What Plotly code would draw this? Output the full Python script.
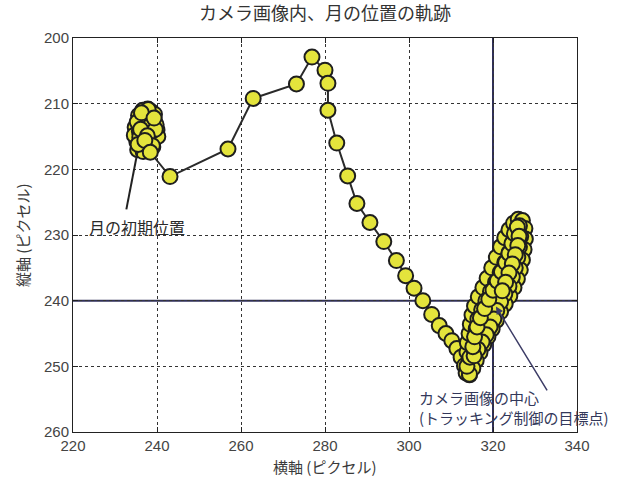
import plotly.graph_objects as go

# Moon centroid in the camera image (pixels), in time order
moon_x = [
    # initial position (nearly stationary)
    237.0, 235.6, 238.6, 236.4, 239.4, 234.8, 237.8, 240.0, 235.2, 238.2,
    236.6, 239.2, 234.6, 237.4, 239.8, 236.0, 238.4, 235.4, 237.0, 239.0,
    236.2, 238.0, 240.2, 235.8, 237.6, 236.8, 238.8, 237.2, 239.4, 236.9,
    235.9, 238.1, 236.5, 239.1, 237.3, 235.3, 238.7, 236.1, 237.9, 236.7,
    239.6, 235.5, 237.7, 238.9, 236.3, 237.1, 239.3, 238.4,
    # drift towards the image centre
    243.1, 256.9, 262.9, 273.2, 276.9, 280.0, 280.7, 280.7, 282.8, 285.4,
    287.6, 290.7, 294.0, 297.0, 299.2, 301.2, 303.3, 305.4, 307.2, 308.8,
    310.2, 311.4, 312.4, 313.2, 313.6,
    # tracking oscillation around the centre
    314.4, 315.0, 314.4, 313.8, 313.9, 314.3, 314.6, 315.0, 315.6, 316.5,
    317.6, 318.6, 319.7, 320.8, 321.8, 322.8, 323.8, 324.9, 326.0, 327.0,
    327.6, 327.7, 327.4, 327.0, 326.5, 325.8, 325.0, 324.0, 322.9, 321.8,
    320.8, 319.8, 318.8, 317.8, 316.9, 316.0, 315.2, 314.4,
    313.8, 314.5, 315.3, 315.8, 316.0, 316.4, 317.3, 318.3, 319.4, 320.6,
    321.7, 322.8, 323.8, 324.7, 325.5, 326.3,
    326.6, 326.3, 325.9, 325.3, 324.6, 323.8, 322.8, 321.8, 320.9, 320.2,
    319.3, 318.4, 317.4, 316.4, 315.5,
    315.2, 315.6, 316.2, 317.0, 318.0, 319.0, 320.0, 321.0, 322.0, 323.0,
    323.8, 324.5, 325.1, 325.8,
    326.2, 325.9, 325.3, 324.6, 323.8, 323.0, 322.2,
]
moon_y = [
    213.0, 211.8, 211.2, 214.4, 212.6, 213.6, 210.8, 214.0, 215.8, 216.0,
    211.0, 215.4, 214.8, 216.8, 213.2, 212.4, 213.8, 217.0, 212.0, 216.6,
    215.2, 217.2, 215.0, 214.2, 211.6, 216.2, 213.6, 214.6, 211.6, 212.9,
    215.1, 212.3, 216.5, 214.1, 215.9, 212.8, 213.1, 213.9, 210.9, 217.3,
    213.9, 216.2, 214.9, 216.4, 211.4, 215.6, 212.2, 217.4,
    221.1, 216.9, 209.2, 207.0, 202.9, 204.9, 206.9, 211.0, 216.0, 221.0,
    225.2, 228.1, 231.0, 233.9, 236.2, 238.1, 240.0, 242.1, 243.8, 245.0,
    246.1, 247.3, 248.6, 249.9, 251.0,
    251.3, 250.2, 249.0, 247.8, 246.4, 245.0, 243.6, 242.2, 240.8, 239.4,
    238.0, 236.6, 235.0, 233.4, 231.8, 230.4, 229.2, 228.2, 227.6, 227.8,
    229.0, 230.6, 232.2, 233.8, 235.3, 236.7, 238.0, 239.3, 240.5, 241.7,
    243.0, 244.3, 245.5, 246.7, 247.9, 249.1, 250.3, 251.2,
    250.0, 248.6, 247.2, 245.8, 244.3, 242.8, 241.4, 240.0, 238.6, 237.2,
    235.7, 234.2, 232.7, 231.2, 229.8, 228.6,
    230.2, 231.8, 233.4, 235.0, 236.4, 237.8, 239.0, 240.2, 241.5, 242.8,
    244.0, 245.2, 246.3, 247.4, 248.4,
    247.0, 245.5, 244.0, 242.6, 241.2, 239.8, 238.4, 237.0, 235.6, 234.2,
    232.8, 231.3, 229.8, 228.8,
    230.2, 231.6, 233.0, 234.4, 235.8, 237.2, 238.5,
]

# Image centre = tracking target
center_x = 320
center_y = 240

x_ticks = [220, 240, 260, 280, 300, 320, 340]
y_ticks = [200, 210, 220, 230, 240, 250, 260]

title_text = "カメラ画像内、月の位置の軌跡"
x_title = "横軸 (ピクセル)"
y_title = "縦軸 (ピクセル)"
start_label = "月の初期位置"
target_label = "カメラ画像の中心<br>(トラッキング制御の目標点)"

JP = "Noto Sans CJK JP"
NUM = "Liberation Sans Narrow, Liberation Sans, Arial"

fig = go.Figure()

fig.add_trace(go.Scatter(
    x=moon_x, y=moon_y, mode="lines+markers",
    line=dict(color="#2a2a2a", width=2),
    marker=dict(size=15, color="#e4e43c", line=dict(color="#1e1e1e", width=2)),
    showlegend=False, hoverinfo="skip",
))

# centre cross-hair
fig.add_shape(type="line", xref="x", yref="paper", x0=center_x, x1=center_x,
              y0=0, y1=1, line=dict(color="#30305a", width=2), layer="below")
fig.add_shape(type="line", xref="paper", yref="y", x0=0, x1=1,
              y0=center_y, y1=center_y, line=dict(color="#30305a", width=2), layer="below")

# leader lines for the labels
fig.add_shape(type="line", xref="x", yref="y", x0=232.7, y0=226.1, x1=235.4, y1=217.2,
              line=dict(color="#222222", width=2))
fig.add_annotation(x=320.7, y=240.9, ax=333.1, ay=253.9, xref="x", yref="y",
                   axref="x", ayref="y", text="", showarrow=True,
                   arrowhead=2, arrowsize=1, arrowwidth=1.5, arrowcolor="#3c3c66")

fig.add_annotation(x=235.3, y=228.8, xref="x", yref="y", text=start_label,
                   showarrow=False, font=dict(family=JP, size=16, color="#2a2a2a"))
fig.add_annotation(x=301.8, y=256.3, xref="x", yref="y", text=target_label,
                   showarrow=False, xanchor="left", align="left",
                   font=dict(family=JP, size=15, color="#33385a"))

# axis titles
fig.add_annotation(x=0.5, y=0, xref="paper", yref="paper", yshift=-34,
                   text=x_title, showarrow=False, yanchor="middle",
                   font=dict(family=JP, size=15, color="#3a3a3a"))
fig.add_annotation(x=0, y=0.5, xref="paper", yref="paper", xshift=-51,
                   text=y_title, showarrow=False, textangle=-90, xanchor="center",
                   font=dict(family=JP, size=15, color="#3a3a3a"))

axis_common = dict(
    showline=True, linecolor="#222222", linewidth=1, mirror="ticks",
    ticks="inside", ticklen=5, tickcolor="#222222",
    showgrid=True, gridcolor="#333333", gridwidth=1, griddash="3px,3px",
    zeroline=False, tickfont=dict(family=NUM, size=15, color="#444444"),
)

fig.update_xaxes(range=[220, 340], tickvals=x_ticks, ticktext=[str(v) for v in x_ticks],
                 **axis_common)
fig.update_yaxes(range=[260, 200], tickvals=y_ticks, ticktext=[str(v) for v in y_ticks],
                 **axis_common)

fig.update_layout(
    width=634, height=481,
    margin=dict(l=73, r=57, t=38, b=49),
    paper_bgcolor="white", plot_bgcolor="white",
    title=dict(text=title_text, x=0.5, xref="paper", y=1 - 14 / 481,
               yref="container", yanchor="middle", xanchor="center",
               font=dict(family=JP, size=18, color="#333333")),
)

fig.write_html("out.html")
